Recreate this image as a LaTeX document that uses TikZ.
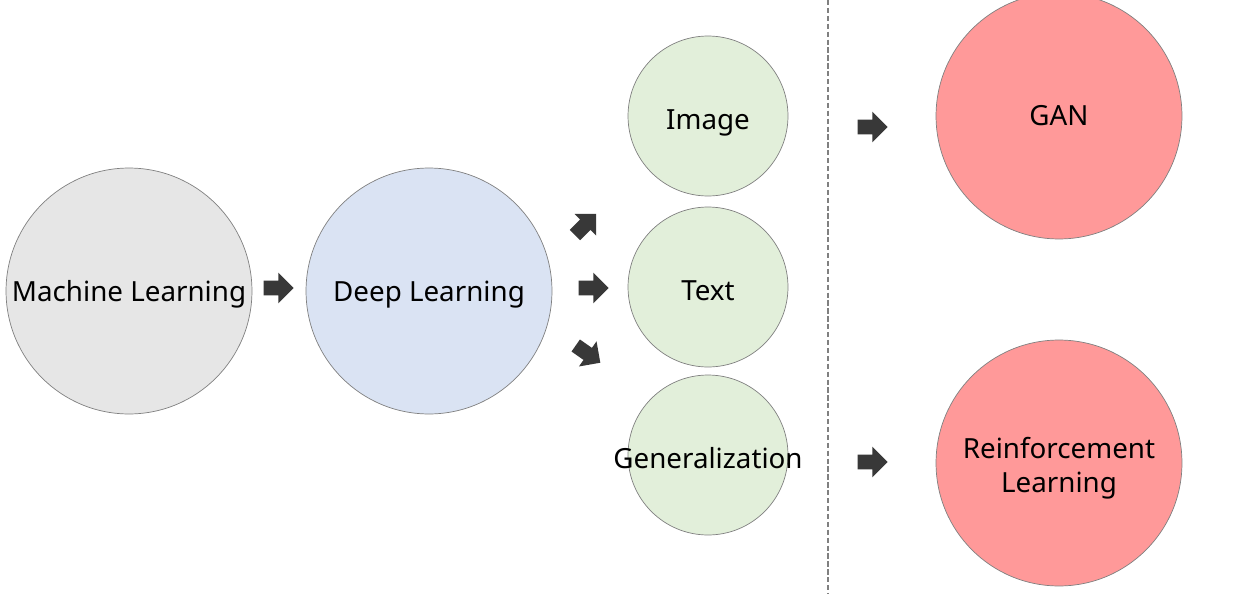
\documentclass[tikz,border=0pt]{standalone}
\usepackage{fontspec}
\setmainfont{Noto Sans}
\usepackage{xcolor}
\usetikzlibrary{shapes.arrows}

\definecolor{mlgray}{HTML}{E6E6E6}
\definecolor{dlblue}{HTML}{DAE3F3}
\definecolor{subgreen}{HTML}{E2EFDA}
\definecolor{nextred}{HTML}{FF9999}
\definecolor{rimgray}{HTML}{808080}
\definecolor{arrowgray}{HTML}{383838}

\tikzset{
    bigcirc/.style={circle, draw=rimgray, minimum size=4.92cm, inner sep=0pt},
    smallcirc/.style={circle, draw=rimgray, minimum size=3.2cm, inner sep=0pt},
    caption/.style={font=\fontsize{15.8}{19.5}\selectfont, align=center, inner sep=0pt},
    blockarrow/.style={single arrow, fill=arrowgray, draw=none, inner xsep=0pt, inner ysep=0.14cm,
        single arrow head extend=0.16cm, single arrow head indent=0pt, minimum height=0.6cm}
}

\begin{document}
\begin{tikzpicture}[x=0.02cm, y=-0.02cm]
\clip (0,0) rectangle (1251,612);
\fill[white] (0,0) rectangle (1251,612);

% circles
\node[bigcirc, fill=mlgray] (ML) at (129, 291) {};
\node[bigcirc, fill=dlblue] (DL) at (429, 291) {};
\node[smallcirc, fill=subgreen] (IMG) at (708, 116) {};
\node[smallcirc, fill=subgreen] (TXT) at (708, 287) {};
\node[smallcirc, fill=subgreen] (GEN) at (708, 455) {};
\node[bigcirc, fill=nextred] (GAN) at (1059, 116) {};
\node[bigcirc, fill=nextred] (RL) at (1059, 463) {};

% texts
\begin{scope}[every node/.style={caption}]
    \node (MLt) at ([yshift=-2pt]ML.center) {Machine Learning};
    \node (DLt) at ([yshift=-2pt]DL.center) {Deep Learning};
    \node (IMGt) at ([yshift=-4pt]IMG.center) {Image};
    \node (TXTt) at ([yshift=-2pt]TXT.center) {Text};
    \node (GENt) at ([yshift=-2pt]GEN.center) {Generalization};
    \node (GANt) at (GAN) {GAN};
    \node (RLt) at ([yshift=-2.8pt]RL.center) {Reinforcement\\Learning};
\end{scope}

% block arrows
\begin{scope}[every node/.style={blockarrow}]
    \node (A1) at (275, 288) {};
    \node (A2) at (590, 288) {};
    \node[rotate=45] (A3) at (583, 227) {};
    \node[rotate=-35] (A4) at (585, 352) {};
    \node (A5) at (869, 127) {};
    \node (A6) at (869, 462) {};
\end{scope}

% separator
\coordinate (S1) at (828, 0);
\coordinate (S2) at (828, 593);
\draw[rimgray, line width=0.9pt, dash pattern=on 3pt off 1.5pt] (S1) -- (S2);
\end{tikzpicture}
\end{document}
